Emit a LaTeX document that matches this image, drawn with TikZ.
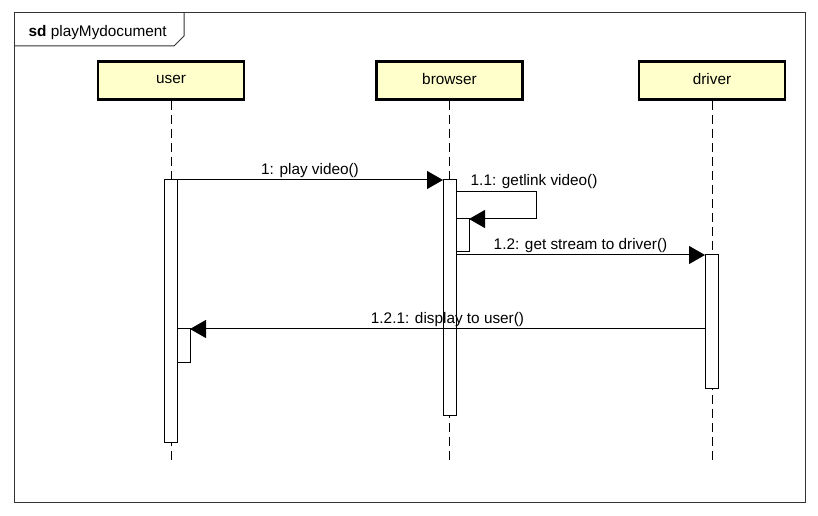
\documentclass[tikz,border=0pt]{standalone}
\usepackage{fontspec}
\setmainfont{Liberation Sans}
\usetikzlibrary{arrows.meta}
\definecolor{headfill}{RGB}{255,255,204}
\tikzstyle{lifehead}=[draw,line width=2.2pt,fill=headfill,minimum width=109.5pt,minimum height=28pt,inner sep=0pt,text depth=2pt]
\tikzstyle{actbar}=[draw,line width=0.75pt,fill=white,minimum width=9.75pt,inner sep=0pt,outer sep=0pt]
\tikzstyle{lifeline}=[line width=0.75pt,dash pattern=on 7pt off 3.5pt]
\tikzstyle{msg}=[line width=0.75pt,-{Triangle[length=12pt,width=13.5pt]}]
\tikzstyle{msglabel}=[above=0pt,inner sep=1.2pt]
\tikzstyle{frameline}=[line width=0.75pt,draw=black!80]

\begin{document}
\begin{tikzpicture}[x=0.75pt,y=-0.75pt,font=\fontsize{11.5}{13}\selectfont]
\useasboundingbox (0,0) rectangle (818,516);
% frame
\draw[frameline] (14,13) rectangle (805,503);
\draw[frameline] (14,46) -- (174,46) -- (184,36) -- (184,13);
\node[anchor=west] (sdlabel) at (24,33) {\textbf{sd} playMydocument};
% lifelines
\node[lifehead] (user) at (171,80.5) {user};
\node[lifehead] (browser) at (449.5,80.5) {browser};
\node[lifehead] (driver) at (712,80.5) {driver};
\draw[lifeline] (user.south) -- (user.south |- 0,463);
\draw[lifeline] (browser.south) -- (browser.south |- 0,463);
\draw[lifeline] (driver.south) -- (driver.south |- 0,463);
% activations
\node[actbar,minimum height=197.25pt] (uact) at (170.5,311.5) {};
\node[actbar,minimum height=25.5pt] (usub) at (183.5,346) {};
\node[actbar,minimum height=177pt] (bact) at (449.5,298) {};
\node[actbar,minimum height=24.75pt] (bsub) at (462.5,235.5) {};
\node[actbar,minimum height=100.5pt] (dact) at (711.5,322) {};
% messages
\draw[msg] (uact.north east) -- node[msglabel] {1: play video()} (bact.north west);
\coordinate (selfturn) at (536,192);
\draw[msg] (bact.east |- selfturn) -- (selfturn) |- (bsub.north east);
\node[anchor=south west] (getlink) at (466,193) {1.1: getlink video()};
\draw[msg] (bact.east |- dact.north) -- node[msglabel] {1.2: get stream to driver()} (dact.north west);
\draw[msg] (dact.west |- usub.north) -- node[msglabel] {1.2.1: display to user()} (usub.north east);
\end{tikzpicture}
\end{document}
